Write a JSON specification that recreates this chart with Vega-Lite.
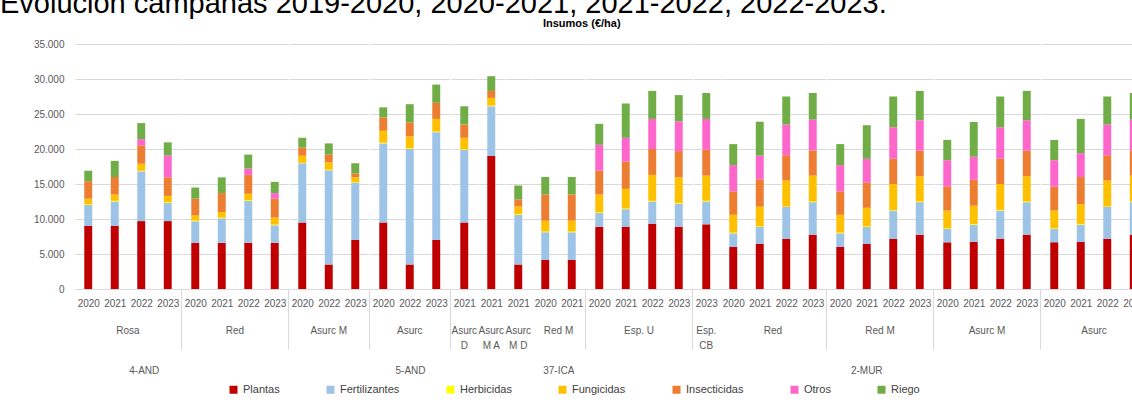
{
  "$schema": "https://vega.github.io/schema/vega-lite/v6.json",
  "padding": {"left": 0, "top": -10, "right": 0, "bottom": 0},
  "config": {
    "font": "Liberation Sans",
    "view": {"stroke": null},
    "axis": {"labelFont": "Liberation Sans", "labelFontSize": 10, "labelColor": "#595959", "gridColor": "#D9D9D9", "domainColor": "#D9D9D9", "tickColor": "#D9D9D9"},
    "axisX": {"labelAngle": 0, "tickBand": "extent", "tickSize": 60, "labelPadding": -51},
    "header": {"labelFont": "Liberation Sans", "labelFontSize": 10, "labelColor": "#595959", "labelOrient": "bottom", "labelPadding": -24, "labelLineHeight": 15},
    "legend": {"labelFont": "Liberation Sans", "labelFontSize": 11, "labelColor": "#404040"}
  },
  "title": {"text": "Evolución campañas 2019-2020, 2020-2021, 2021-2022, 2022-2023.", "anchor": "start", "fontSize": 29, "fontWeight": "normal", "color": "#000000", "font": "Liberation Sans", "offset": -1},
  "datasets": {"orden": [
    {"insumo": "Plantas", "o": 1}, {"insumo": "Fertilizantes", "o": 2}, {"insumo": "Herbicidas", "o": 3}, {"insumo": "Fungicidas", "o": 4}, {"insumo": "Insecticidas", "o": 5}, {"insumo": "Otros", "o": 6}, {"insumo": "Riego", "o": 7}
  ]},
  "data": {"values": [
    {"r": "4-AND", "v": "Rosa", "y": "2020", "Plantas": 9000, "Fertilizantes": 3000, "Herbicidas": 100, "Fungicidas": 800, "Insecticidas": 2500, "Otros": 0, "Riego": 1500},
    {"r": "4-AND", "v": "Rosa", "y": "2021", "Plantas": 9000, "Fertilizantes": 3500, "Herbicidas": 100, "Fungicidas": 900, "Insecticidas": 2500, "Otros": 0, "Riego": 2300},
    {"r": "4-AND", "v": "Rosa", "y": "2022", "Plantas": 9700, "Fertilizantes": 7100, "Herbicidas": 100, "Fungicidas": 1000, "Insecticidas": 2600, "Otros": 900, "Riego": 2300},
    {"r": "4-AND", "v": "Rosa", "y": "2023", "Plantas": 9700, "Fertilizantes": 2600, "Herbicidas": 100, "Fungicidas": 900, "Insecticidas": 2650, "Otros": 3150, "Riego": 1850},
    {"r": "4-AND", "v": "Red", "y": "2020", "Plantas": 6600, "Fertilizantes": 3070, "Herbicidas": 100, "Fungicidas": 730, "Insecticidas": 2400, "Otros": 0, "Riego": 1600},
    {"r": "4-AND", "v": "Red", "y": "2021", "Plantas": 6600, "Fertilizantes": 3500, "Herbicidas": 100, "Fungicidas": 800, "Insecticidas": 2700, "Otros": 0, "Riego": 2250},
    {"r": "4-AND", "v": "Red", "y": "2022", "Plantas": 6600, "Fertilizantes": 6000, "Herbicidas": 100, "Fungicidas": 900, "Insecticidas": 2700, "Otros": 900, "Riego": 2000},
    {"r": "4-AND", "v": "Red", "y": "2023", "Plantas": 6600, "Fertilizantes": 2500, "Herbicidas": 100, "Fungicidas": 1000, "Insecticidas": 2700, "Otros": 800, "Riego": 1600},
    {"r": "5-AND", "v": "Asurc M", "y": "2020", "Plantas": 9500, "Fertilizantes": 8450, "Herbicidas": 100, "Fungicidas": 1000, "Insecticidas": 1150, "Otros": 0, "Riego": 1400},
    {"r": "5-AND", "v": "Asurc M", "y": "2022", "Plantas": 3500, "Fertilizantes": 13450, "Herbicidas": 100, "Fungicidas": 1050, "Insecticidas": 1100, "Otros": 0, "Riego": 1600},
    {"r": "5-AND", "v": "Asurc M", "y": "2023", "Plantas": 7000, "Fertilizantes": 8200, "Herbicidas": 100, "Fungicidas": 650, "Insecticidas": 550, "Otros": 0, "Riego": 1450},
    {"r": "5-AND", "v": "Asurc", "y": "2020", "Plantas": 9500, "Fertilizantes": 11300, "Herbicidas": 100, "Fungicidas": 1700, "Insecticidas": 1900, "Otros": 0, "Riego": 1450},
    {"r": "5-AND", "v": "Asurc", "y": "2022", "Plantas": 3500, "Fertilizantes": 16500, "Herbicidas": 100, "Fungicidas": 1700, "Insecticidas": 2000, "Otros": 0, "Riego": 2600},
    {"r": "5-AND", "v": "Asurc", "y": "2023", "Plantas": 7000, "Fertilizantes": 15400, "Herbicidas": 100, "Fungicidas": 1800, "Insecticidas": 2300, "Otros": 0, "Riego": 2600},
    {"r": "5-AND", "v": "Asurc/D", "y": "2021", "Plantas": 9500, "Fertilizantes": 10400, "Herbicidas": 100, "Fungicidas": 1600, "Insecticidas": 1900, "Otros": 0, "Riego": 2600},
    {"r": "5-AND", "v": "Asurc/M A", "y": "2021", "Plantas": 19000, "Fertilizantes": 7100, "Herbicidas": 100, "Fungicidas": 1100, "Insecticidas": 1000, "Otros": 0, "Riego": 2100},
    {"r": "5-AND", "v": "Asurc/M D", "y": "2021", "Plantas": 3500, "Fertilizantes": 7100, "Herbicidas": 100, "Fungicidas": 1100, "Insecticidas": 1000, "Otros": 0, "Riego": 2000},
    {"r": "37-ICA", "v": "Red M", "y": "2020", "Plantas": 4150, "Fertilizantes": 3950, "Herbicidas": 100, "Fungicidas": 1560, "Insecticidas": 3740, "Otros": 0, "Riego": 2500},
    {"r": "37-ICA", "v": "Red M", "y": "2021", "Plantas": 4150, "Fertilizantes": 3950, "Herbicidas": 100, "Fungicidas": 1560, "Insecticidas": 3740, "Otros": 0, "Riego": 2500},
    {"r": "2-MUR", "v": "Esp. U", "y": "2020", "Plantas": 8900, "Fertilizantes": 1960, "Herbicidas": 100, "Fungicidas": 2540, "Insecticidas": 3400, "Otros": 3700, "Riego": 3000},
    {"r": "2-MUR", "v": "Esp. U", "y": "2021", "Plantas": 8900, "Fertilizantes": 2500, "Herbicidas": 100, "Fungicidas": 2800, "Insecticidas": 3900, "Otros": 3400, "Riego": 4900},
    {"r": "2-MUR", "v": "Esp. U", "y": "2022", "Plantas": 9330, "Fertilizantes": 3170, "Herbicidas": 100, "Fungicidas": 3700, "Insecticidas": 3700, "Otros": 4300, "Riego": 4000},
    {"r": "2-MUR", "v": "Esp. U", "y": "2023", "Plantas": 8900, "Fertilizantes": 3300, "Herbicidas": 100, "Fungicidas": 3650, "Insecticidas": 3750, "Otros": 4250, "Riego": 3750},
    {"r": "2-MUR", "v": "Esp./CB", "y": "2023", "Plantas": 9240, "Fertilizantes": 3260, "Herbicidas": 100, "Fungicidas": 3600, "Insecticidas": 3700, "Otros": 4400, "Riego": 3700},
    {"r": "2-MUR", "v": "Red", "y": "2020", "Plantas": 6000, "Fertilizantes": 1950, "Herbicidas": 100, "Fungicidas": 2550, "Insecticidas": 3350, "Otros": 3750, "Riego": 3000},
    {"r": "2-MUR", "v": "Red", "y": "2021", "Plantas": 6430, "Fertilizantes": 2430, "Herbicidas": 100, "Fungicidas": 2800, "Insecticidas": 3910, "Otros": 3380, "Riego": 4850},
    {"r": "2-MUR", "v": "Red", "y": "2022", "Plantas": 7190, "Fertilizantes": 4510, "Herbicidas": 100, "Fungicidas": 3700, "Insecticidas": 3600, "Otros": 4400, "Riego": 4000},
    {"r": "2-MUR", "v": "Red", "y": "2023", "Plantas": 7760, "Fertilizantes": 4640, "Herbicidas": 100, "Fungicidas": 3700, "Insecticidas": 3600, "Otros": 4400, "Riego": 3800},
    {"r": "2-MUR", "v": "Red M", "y": "2020", "Plantas": 6000, "Fertilizantes": 1950, "Herbicidas": 100, "Fungicidas": 2550, "Insecticidas": 3350, "Otros": 3750, "Riego": 3000},
    {"r": "2-MUR", "v": "Red M", "y": "2021", "Plantas": 6430, "Fertilizantes": 2430, "Herbicidas": 100, "Fungicidas": 2640, "Insecticidas": 3600, "Otros": 3400, "Riego": 4800},
    {"r": "2-MUR", "v": "Red M", "y": "2022", "Plantas": 7190, "Fertilizantes": 4010, "Herbicidas": 100, "Fungicidas": 3700, "Insecticidas": 3600, "Otros": 4500, "Riego": 4400},
    {"r": "2-MUR", "v": "Red M", "y": "2023", "Plantas": 7760, "Fertilizantes": 4640, "Herbicidas": 100, "Fungicidas": 3600, "Insecticidas": 3660, "Otros": 4340, "Riego": 4200},
    {"r": "2-MUR", "v": "Asurc M", "y": "2020", "Plantas": 6670, "Fertilizantes": 1900, "Herbicidas": 100, "Fungicidas": 2530, "Insecticidas": 3400, "Otros": 3800, "Riego": 2900},
    {"r": "2-MUR", "v": "Asurc M", "y": "2021", "Plantas": 6710, "Fertilizantes": 2480, "Herbicidas": 100, "Fungicidas": 2610, "Insecticidas": 3700, "Otros": 3300, "Riego": 4960},
    {"r": "2-MUR", "v": "Asurc M", "y": "2022", "Plantas": 7190, "Fertilizantes": 4010, "Herbicidas": 100, "Fungicidas": 3700, "Insecticidas": 3600, "Otros": 4500, "Riego": 4400},
    {"r": "2-MUR", "v": "Asurc M", "y": "2023", "Plantas": 7760, "Fertilizantes": 4640, "Herbicidas": 100, "Fungicidas": 3600, "Insecticidas": 3660, "Otros": 4340, "Riego": 4200},
    {"r": "2-MUR", "v": "Asurc", "y": "2020", "Plantas": 6670, "Fertilizantes": 1900, "Herbicidas": 100, "Fungicidas": 2530, "Insecticidas": 3400, "Otros": 3800, "Riego": 2900},
    {"r": "2-MUR", "v": "Asurc", "y": "2021", "Plantas": 6710, "Fertilizantes": 2490, "Herbicidas": 100, "Fungicidas": 2800, "Insecticidas": 3900, "Otros": 3400, "Riego": 4900},
    {"r": "2-MUR", "v": "Asurc", "y": "2022", "Plantas": 7190, "Fertilizantes": 4510, "Herbicidas": 100, "Fungicidas": 3700, "Insecticidas": 3600, "Otros": 4400, "Riego": 4000},
    {"r": "2-MUR", "v": "Asurc", "y": "2023", "Plantas": 7760, "Fertilizantes": 4640, "Herbicidas": 100, "Fungicidas": 3700, "Insecticidas": 3600, "Otros": 4400, "Riego": 3800}
  ]},
  "vconcat": [{
    "title": {"text": "Insumos (€/ha)", "anchor": "middle", "fontSize": 11, "fontWeight": "bold", "color": "#000000", "offset": 10, "dx": 8},
    "spacing": 0,
    "resolve": {"scale": {"color": "shared", "y": "shared"}, "legend": {"color": "shared"}},
    "hconcat": [
      {
        "transform": [{"filter": "datum.r == '4-AND'"}, {"fold": ["Plantas", "Fertilizantes", "Herbicidas", "Fungicidas", "Insecticidas", "Otros", "Riego"], "as": ["insumo", "valor"]}, {"lookup": "insumo", "from": {"data": {"name": "orden"}, "key": "insumo", "fields": ["o"]}}],
        "title": {"text": "4-AND", "orient": "bottom", "anchor": "middle", "fontSize": 10, "fontWeight": "normal", "color": "#595959", "offset": 15},
        "spacing": 0,
        "facet": {"column": {"field": "v", "type": "nominal", "title": null, "sort": ["Rosa", "Red"], "header": {"labelExpr": "indexof(datum.value, '/') >= 0 ? split(datum.value, '/') : [datum.value, ' ']"}}},
        "resolve": {"scale": {"x": "independent"}},
        "spec": {
          "width": {"step": 26.5},
          "height": 245,
          "mark": {"type": "bar", "width": {"band": 0.3}},
          "encoding": {
            "x": {"field": "y", "type": "ordinal", "title": null, "scale": {"paddingInner": 0, "paddingOuter": 0}, "axis": {"tickOpacity": {"condition": {"test": "datum.index == 1", "value": 1}, "value": 0}, "tickWidth": {"condition": {"test": "datum.index == 1", "value": 1}, "value": 0}}},
            "y": {"field": "valor", "type": "quantitative", "stack": "zero", "title": null, "scale": {"domain": [0, 35000]}, "axis": {"values": [0, 5000, 10000, 15000, 20000, 25000, 30000, 35000], "labelExpr": "replace(format(datum.value, ','), ',', '.')", "ticks": false, "domain": false, "labelPadding": 11, "minExtent": 75}},
            "order": {"field": "o", "type": "quantitative", "sort": "ascending"},
            "color": {"field": "insumo", "type": "nominal", "sort": ["Plantas", "Fertilizantes", "Herbicidas", "Fungicidas", "Insecticidas", "Otros", "Riego"], "scale": {"domain": ["Plantas", "Fertilizantes", "Herbicidas", "Fungicidas", "Insecticidas", "Otros", "Riego"], "range": ["#C00000", "#9DC3E6", "#FFFF00", "#FFC000", "#ED7D31", "#FF66CC", "#70AD47"]}, "legend": {"title": null, "orient": "none", "legendX": 153, "legendY": 340, "direction": "horizontal", "symbolType": "square", "symbolSize": 64, "symbolStrokeWidth": 0, "columnPadding": 45}}
          }
        }
      },
      {
        "transform": [{"filter": "datum.r == '5-AND'"}, {"fold": ["Plantas", "Fertilizantes", "Herbicidas", "Fungicidas", "Insecticidas", "Otros", "Riego"], "as": ["insumo", "valor"]}, {"lookup": "insumo", "from": {"data": {"name": "orden"}, "key": "insumo", "fields": ["o"]}}],
        "title": {"text": "5-AND", "orient": "bottom", "anchor": "middle", "fontSize": 10, "fontWeight": "normal", "color": "#595959", "offset": 15},
        "spacing": 0,
        "facet": {"column": {"field": "v", "type": "nominal", "title": null, "sort": ["Asurc M", "Asurc", "Asurc/D", "Asurc/M A", "Asurc/M D"], "header": {"labelExpr": "indexof(datum.value, '/') >= 0 ? split(datum.value, '/') : [datum.value, ' ']"}}},
        "resolve": {"scale": {"x": "independent"}},
        "spec": {
          "width": {"step": 26.5},
          "height": 245,
          "mark": {"type": "bar", "width": {"band": 0.3}},
          "encoding": {
            "x": {"field": "y", "type": "ordinal", "title": null, "scale": {"paddingInner": 0, "paddingOuter": 0}, "axis": {"tickOpacity": {"condition": {"test": "datum.index == 1", "value": 1}, "value": 0}, "tickWidth": {"condition": {"test": "datum.index == 1", "value": 1}, "value": 0}}},
            "y": {"field": "valor", "type": "quantitative", "stack": "zero", "title": null, "scale": {"domain": [0, 35000]}, "axis": {"values": [0, 5000, 10000, 15000, 20000, 25000, 30000, 35000], "labels": false, "ticks": false, "domain": false, "title": null}},
            "order": {"field": "o", "type": "quantitative", "sort": "ascending"},
            "color": {"field": "insumo", "type": "nominal", "sort": ["Plantas", "Fertilizantes", "Herbicidas", "Fungicidas", "Insecticidas", "Otros", "Riego"], "scale": {"domain": ["Plantas", "Fertilizantes", "Herbicidas", "Fungicidas", "Insecticidas", "Otros", "Riego"], "range": ["#C00000", "#9DC3E6", "#FFFF00", "#FFC000", "#ED7D31", "#FF66CC", "#70AD47"]}, "legend": {"title": null, "orient": "none", "legendX": 153, "legendY": 340, "direction": "horizontal", "symbolType": "square", "symbolSize": 64, "symbolStrokeWidth": 0, "columnPadding": 45}}
          }
        }
      },
      {
        "transform": [{"filter": "datum.r == '37-ICA'"}, {"fold": ["Plantas", "Fertilizantes", "Herbicidas", "Fungicidas", "Insecticidas", "Otros", "Riego"], "as": ["insumo", "valor"]}, {"lookup": "insumo", "from": {"data": {"name": "orden"}, "key": "insumo", "fields": ["o"]}}],
        "title": {"text": "37-ICA", "orient": "bottom", "anchor": "middle", "fontSize": 10, "fontWeight": "normal", "color": "#595959", "offset": 15},
        "spacing": 0,
        "facet": {"column": {"field": "v", "type": "nominal", "title": null, "header": {"labelExpr": "indexof(datum.value, '/') >= 0 ? split(datum.value, '/') : [datum.value, ' ']"}}},
        "resolve": {"scale": {"x": "independent"}},
        "spec": {
          "width": {"step": 26.5},
          "height": 245,
          "mark": {"type": "bar", "width": {"band": 0.3}},
          "encoding": {
            "x": {"field": "y", "type": "ordinal", "title": null, "scale": {"paddingInner": 0, "paddingOuter": 0}, "axis": {"tickOpacity": {"condition": {"test": "datum.index == 1", "value": 1}, "value": 0}, "tickWidth": {"condition": {"test": "datum.index == 1", "value": 1}, "value": 0}}},
            "y": {"field": "valor", "type": "quantitative", "stack": "zero", "title": null, "scale": {"domain": [0, 35000]}, "axis": {"values": [0, 5000, 10000, 15000, 20000, 25000, 30000, 35000], "labels": false, "ticks": false, "domain": false, "title": null}},
            "order": {"field": "o", "type": "quantitative", "sort": "ascending"},
            "color": {"field": "insumo", "type": "nominal", "sort": ["Plantas", "Fertilizantes", "Herbicidas", "Fungicidas", "Insecticidas", "Otros", "Riego"], "scale": {"domain": ["Plantas", "Fertilizantes", "Herbicidas", "Fungicidas", "Insecticidas", "Otros", "Riego"], "range": ["#C00000", "#9DC3E6", "#FFFF00", "#FFC000", "#ED7D31", "#FF66CC", "#70AD47"]}, "legend": {"title": null, "orient": "none", "legendX": 153, "legendY": 340, "direction": "horizontal", "symbolType": "square", "symbolSize": 64, "symbolStrokeWidth": 0, "columnPadding": 45}}
          }
        }
      },
      {
        "transform": [{"filter": "datum.r == '2-MUR'"}, {"fold": ["Plantas", "Fertilizantes", "Herbicidas", "Fungicidas", "Insecticidas", "Otros", "Riego"], "as": ["insumo", "valor"]}, {"lookup": "insumo", "from": {"data": {"name": "orden"}, "key": "insumo", "fields": ["o"]}}],
        "title": {"text": "2-MUR", "orient": "bottom", "anchor": "middle", "fontSize": 10, "fontWeight": "normal", "color": "#595959", "offset": 15},
        "spacing": 0,
        "facet": {"column": {"field": "v", "type": "nominal", "title": null, "sort": ["Esp. U", "Esp./CB", "Red", "Red M", "Asurc M", "Asurc"], "header": {"labelExpr": "indexof(datum.value, '/') >= 0 ? split(datum.value, '/') : [datum.value, ' ']"}}},
        "resolve": {"scale": {"x": "independent"}},
        "spec": {
          "width": {"step": 26.5},
          "height": 245,
          "mark": {"type": "bar", "width": {"band": 0.3}},
          "encoding": {
            "x": {"field": "y", "type": "ordinal", "title": null, "scale": {"paddingInner": 0, "paddingOuter": 0}, "axis": {"tickOpacity": {"condition": {"test": "datum.index == 1", "value": 1}, "value": 0}, "tickWidth": {"condition": {"test": "datum.index == 1", "value": 1}, "value": 0}}},
            "y": {"field": "valor", "type": "quantitative", "stack": "zero", "title": null, "scale": {"domain": [0, 35000]}, "axis": {"values": [0, 5000, 10000, 15000, 20000, 25000, 30000, 35000], "labels": false, "ticks": false, "domain": false, "title": null}},
            "order": {"field": "o", "type": "quantitative", "sort": "ascending"},
            "color": {"field": "insumo", "type": "nominal", "sort": ["Plantas", "Fertilizantes", "Herbicidas", "Fungicidas", "Insecticidas", "Otros", "Riego"], "scale": {"domain": ["Plantas", "Fertilizantes", "Herbicidas", "Fungicidas", "Insecticidas", "Otros", "Riego"], "range": ["#C00000", "#9DC3E6", "#FFFF00", "#FFC000", "#ED7D31", "#FF66CC", "#70AD47"]}, "legend": {"title": null, "orient": "none", "legendX": 153, "legendY": 340, "direction": "horizontal", "symbolType": "square", "symbolSize": 64, "symbolStrokeWidth": 0, "columnPadding": 45}}
          }
        }
      }
    ]
  }]
}
